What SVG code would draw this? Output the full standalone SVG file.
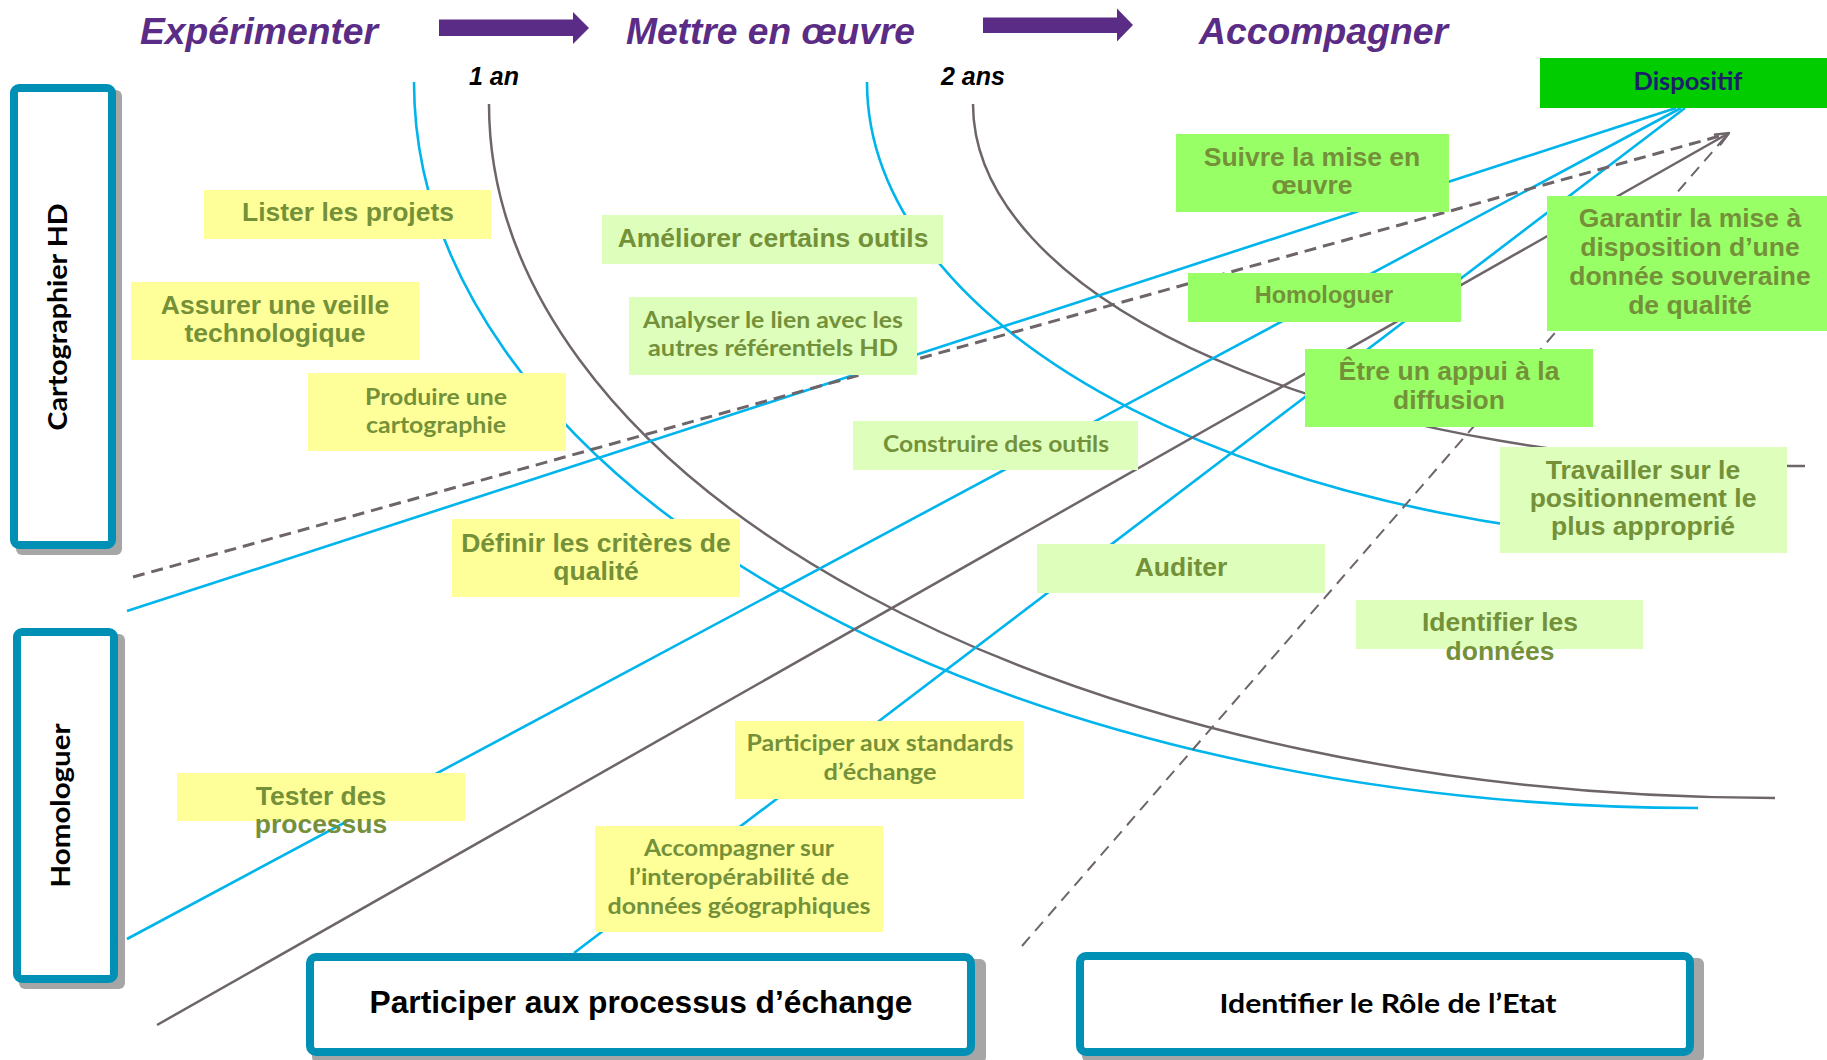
<svg xmlns="http://www.w3.org/2000/svg" width="1827" height="1060" viewBox="0 0 1827 1060">
<defs>
<style>
.bg{fill:#ffffff}
.title{font-family:"Liberation Sans",Arial,sans-serif;font-weight:bold;font-style:italic;font-size:37px;fill:#5B2C85}
.time{font-family:"Liberation Sans",Arial,sans-serif;font-weight:bold;font-style:italic;font-size:25px;fill:#000}
.cy{fill:none;stroke:#00B4EC;stroke-width:2.6}
.gr{fill:none;stroke:#6D6569;stroke-width:2.5}
.d1{fill:none;stroke:#6D6569;stroke-width:3;stroke-dasharray:12 7}
.d2{fill:none;stroke:#6D6569;stroke-width:2;stroke-dasharray:12 8}
.yel{fill:#FFFF99}
.pal{fill:#DDFFBB}
.grn{fill:#99FF66}
.ta{font-family:"Liberation Sans",Arial,sans-serif;font-weight:bold;font-size:26.5px;fill:#74913A;text-anchor:middle}
.tc{font-family:Lato,"Open Sans",sans-serif;font-weight:bold;font-size:23px;fill:#74913A;text-anchor:middle}
.frame{fill:#ffffff;stroke:#0090B5;stroke-width:8}
.shadow{fill:#A6A6A6}
.lab{font-family:Lato,"Open Sans",sans-serif;font-weight:bold;font-size:27px;fill:#000;text-anchor:middle}
</style>
<marker id="arr" markerUnits="userSpaceOnUse" viewBox="0 0 16 14" refX="15" refY="7" markerWidth="16" markerHeight="14" orient="auto">
<path d="M1,1 L15,7 L1,13" fill="none" stroke="#6D6569" stroke-width="2.5"/>
</marker>
</defs>
<rect class="bg" x="0" y="0" width="1827" height="1060"/>

<g id="header">
<text class="title" x="140" y="44" textLength="238" lengthAdjust="spacingAndGlyphs">Expérimenter</text>
<polygon points="439,19.5 573,19.5 573,12 589,28 573,44 573,36 439,36" fill="#5B2C85"/>
<text class="title" x="626" y="44" textLength="289" lengthAdjust="spacingAndGlyphs">Mettre en œuvre</text>
<polygon points="983,17.5 1117,17.5 1117,8.5 1133,25 1117,41.5 1117,33 983,33" fill="#5B2C85"/>
<text class="title" x="1199" y="44" textLength="249" lengthAdjust="spacingAndGlyphs">Accompagner</text>
<text class="time" x="469" y="85">1 an</text>
<text class="time" x="941" y="85">2 ans</text>
</g>

<g id="connectors">
<path class="cy" d="M414,82 A1284,726 0 0 0 1698,808"/>
<path class="gr" d="M489,104 A1286,694 0 0 0 1775,798"/>
<path class="cy" d="M867,82 A905,463 0 0 0 1772,545"/>
<path class="gr" d="M973,104 A832,362 0 0 0 1805,466"/>
<line class="cy" x1="127" y1="611" x2="1676" y2="108"/>
<line class="cy" x1="127" y1="939" x2="1681" y2="108"/>
<line class="cy" x1="574" y1="953" x2="1685" y2="108"/>
<line class="d1" x1="133" y1="577" x2="1727" y2="134"/>
<line class="d2" x1="1022" y1="946" x2="1727" y2="135"/>
<line class="gr" x1="157" y1="1025" x2="1729" y2="133" marker-end="url(#arr)"/>
</g>

<g id="cartographier-hd">
<rect class="shadow" x="16" y="90" width="106" height="465" rx="6"/>
<rect class="frame" x="14" y="88" width="98" height="457" rx="5"/>
<text class="lab" transform="translate(67,317) rotate(-90)" textLength="227" lengthAdjust="spacingAndGlyphs">Cartographier HD</text>
</g>

<g id="homologuer-axis">
<rect class="shadow" x="19" y="634" width="106" height="355" rx="6"/>
<rect class="frame" x="17" y="632" width="97" height="347" rx="5"/>
<text class="lab" transform="translate(69.5,805.5) rotate(-90)" textLength="164" lengthAdjust="spacingAndGlyphs">Homologuer</text>
</g>

<g id="participer-processus">
<rect class="shadow" x="312" y="959" width="674" height="104" rx="6"/>
<rect class="frame" x="310" y="957" width="661" height="95" rx="6"/>
<text x="641" y="1013" font-family="Liberation Sans,Arial,sans-serif" font-weight="bold" font-size="32" fill="#000" text-anchor="middle" textLength="543" lengthAdjust="spacingAndGlyphs">Participer aux processus d’échange</text>
</g>

<g id="role-etat">
<rect class="shadow" x="1082" y="958" width="622" height="104" rx="6"/>
<rect class="frame" x="1080" y="956" width="610" height="96" rx="6"/>
<text class="lab" x="1388" y="1013" font-size="31" textLength="337" lengthAdjust="spacingAndGlyphs">Identifier le Rôle de l’Etat</text>
</g>

<g id="dispositif">
<rect x="1540" y="58" width="287" height="50" fill="#00CC00"/>
<text class="tc" x="1688" y="90" style="fill:#1B1F6B;font-size:25px" textLength="109" lengthAdjust="spacingAndGlyphs">Dispositif</text>
</g>

<g id="lister">
<rect class="yel" x="204" y="190" width="287" height="49"/>
<text class="ta" x="348" y="221">Lister les projets</text>
</g>

<g id="veille">
<rect class="yel" x="131" y="282" width="288" height="78"/>
<text class="ta" x="275" y="314">Assurer une veille</text>
<text class="ta" x="275" y="342">technologique</text>
</g>

<g id="produire">
<rect class="yel" x="308" y="373" width="258" height="78"/>
<text class="tc" x="436" y="405" textLength="142" lengthAdjust="spacingAndGlyphs">Produire une</text>
<text class="tc" x="436" y="433" textLength="140" lengthAdjust="spacingAndGlyphs">cartographie</text>
</g>

<g id="definir">
<rect class="yel" x="452" y="519" width="288" height="78"/>
<text class="ta" x="596" y="552">Définir les critères de</text>
<text class="ta" x="596" y="580">qualité</text>
</g>

<g id="ameliorer">
<rect class="pal" x="602" y="215" width="341" height="49"/>
<text class="ta" x="773" y="247">Améliorer certains outils</text>
</g>

<g id="analyser">
<rect class="pal" x="629" y="297" width="288" height="78"/>
<text class="tc" x="773" y="328" textLength="260" lengthAdjust="spacingAndGlyphs">Analyser le lien avec les</text>
<text class="tc" x="773" y="356" textLength="250" lengthAdjust="spacingAndGlyphs">autres  référentiels HD</text>
</g>

<g id="construire">
<rect class="pal" x="853" y="421" width="285" height="49"/>
<text class="tc" x="996" y="452" textLength="226" lengthAdjust="spacingAndGlyphs">Construire des outils</text>
</g>

<g id="suivre">
<rect class="grn" x="1176" y="134" width="273" height="78"/>
<text class="ta" x="1312" y="166">Suivre la mise en</text>
<text class="ta" x="1312" y="194">œuvre</text>
</g>

<g id="homologuer">
<rect class="grn" x="1188" y="273" width="273" height="49"/>
<text class="ta" x="1324" y="303" style="font-size:23.5px">Homologuer</text>
</g>

<g id="garantir">
<rect class="grn" x="1547" y="196" width="280" height="135"/>
<text class="ta" x="1690" y="227">Garantir la mise à</text>
<text class="ta" x="1690" y="256">disposition d’une</text>
<text class="ta" x="1690" y="285">donnée souveraine</text>
<text class="ta" x="1690" y="314">de qualité</text>
</g>

<g id="appui">
<rect class="grn" x="1305" y="349" width="288" height="78"/>
<text class="ta" x="1449" y="380">Être un appui à la</text>
<text class="ta" x="1449" y="409">diffusion</text>
</g>

<g id="travailler">
<rect class="pal" x="1500" y="447" width="287" height="106"/>
<text class="ta" x="1643" y="479">Travailler sur le</text>
<text class="ta" x="1643" y="507">positionnement le</text>
<text class="ta" x="1643" y="535">plus approprié</text>
</g>

<g id="auditer">
<rect class="pal" x="1037" y="544" width="288" height="49"/>
<text class="ta" x="1181" y="576">Auditer</text>
</g>

<g id="identifier-donnees">
<rect class="pal" x="1356" y="600" width="287" height="49"/>
<text class="ta" x="1500" y="631">Identifier les</text>
<text class="ta" x="1500" y="660">données</text>
</g>

<g id="tester">
<rect class="yel" x="177" y="773" width="288" height="48"/>
<text class="ta" x="321" y="805">Tester des</text>
<text class="ta" x="321" y="833">processus</text>
</g>

<g id="standards">
<rect class="yel" x="735" y="721" width="289" height="78"/>
<text class="tc" x="880" y="751" textLength="267" lengthAdjust="spacingAndGlyphs">Participer aux standards</text>
<text class="tc" x="880" y="780" textLength="113" lengthAdjust="spacingAndGlyphs">d’échange</text>
</g>

<g id="interop">
<rect class="yel" x="595" y="826" width="288" height="106"/>
<text class="tc" x="739" y="856" textLength="190" lengthAdjust="spacingAndGlyphs">Accompagner sur</text>
<text class="tc" x="739" y="885" textLength="220" lengthAdjust="spacingAndGlyphs">l’interopérabilité de</text>
<text class="tc" x="739" y="914" textLength="263" lengthAdjust="spacingAndGlyphs">données géographiques</text>
</g>
</svg>
